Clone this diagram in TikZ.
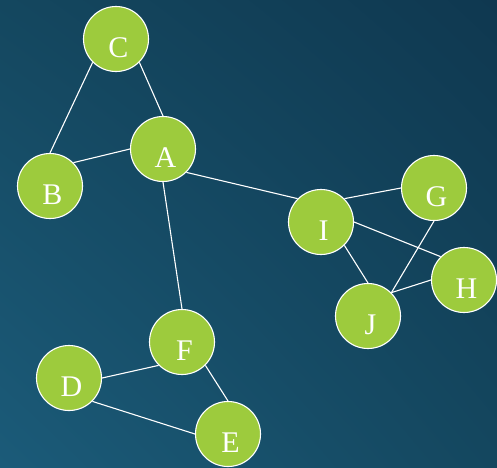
\documentclass[tikz,border=0pt]{standalone}
\usepackage{fontspec}
\setmainfont{Liberation Serif}
\usetikzlibrary{shadings}
\definecolor{bgdark}{HTML}{0F3850}
\definecolor{bgmid}{HTML}{14475F}
\definecolor{bglight}{HTML}{1B5B79}
\definecolor{nodegreen}{HTML}{9DCB3D}
\newcommand{\vlabel}[1]{\smash{\raisebox{-18pt}{\kern5pt #1}}}
\tikzset{
  vnode/.style={circle, fill=nodegreen, draw=white, line width=1.1pt,
    minimum size=65pt, inner sep=0pt, text=white,
    font=\fontsize{30}{36}\selectfont},
  edge/.style={draw=white, line width=1.1pt}
}
\begin{document}
\begin{tikzpicture}[x=1pt, y=-1pt]
\useasboundingbox (0,0) rectangle (497,467);
\shade[lower left=bglight, upper right=bgdark, upper left=bgmid, lower right=bgmid] (0,0) rectangle (497,467);
\node[vnode] (C) at (116,39) {\vlabel{C}};
\node[vnode] (A) at (163,149) {\vlabel{A}};
\node[vnode] (B) at (50,186) {\vlabel{B}};
\node[vnode] (I) at (321,222) {\vlabel{I}};
\node[vnode] (G) at (434,188) {\vlabel{G}};
\node[vnode] (H) at (464,280) {\vlabel{H}};
\node[vnode] (J) at (368,316) {\vlabel{J}};
\node[vnode] (F) at (182,342) {\vlabel{F}};
\node[vnode] (D) at (69,378) {\vlabel{D}};
\node[vnode] (E) at (228,434) {\vlabel{E}};
\draw[edge] (C.-135) -- (B.90);
\draw[edge] (C.-45) -- (A.90);
\draw[edge] (A.180) -- (B.45);
\draw[edge] (A.-45) -- (I.135);
\draw[edge] (A.-90) -- (F.90);
\draw[edge] (I.45) -- (G.180);
\draw[edge] (I.0) -- (H.135);
\draw[edge] (I.-45) -- (J.90);
\draw[edge] (G.-90) -- (J.45);
\draw[edge] (J.45) -- (H.180);
\draw[edge] (F.-135) -- (D.0);
\draw[edge] (F.-45) -- (E.90);
\draw[edge] (D.-45) -- (E.180);
\end{tikzpicture}
\end{document}
